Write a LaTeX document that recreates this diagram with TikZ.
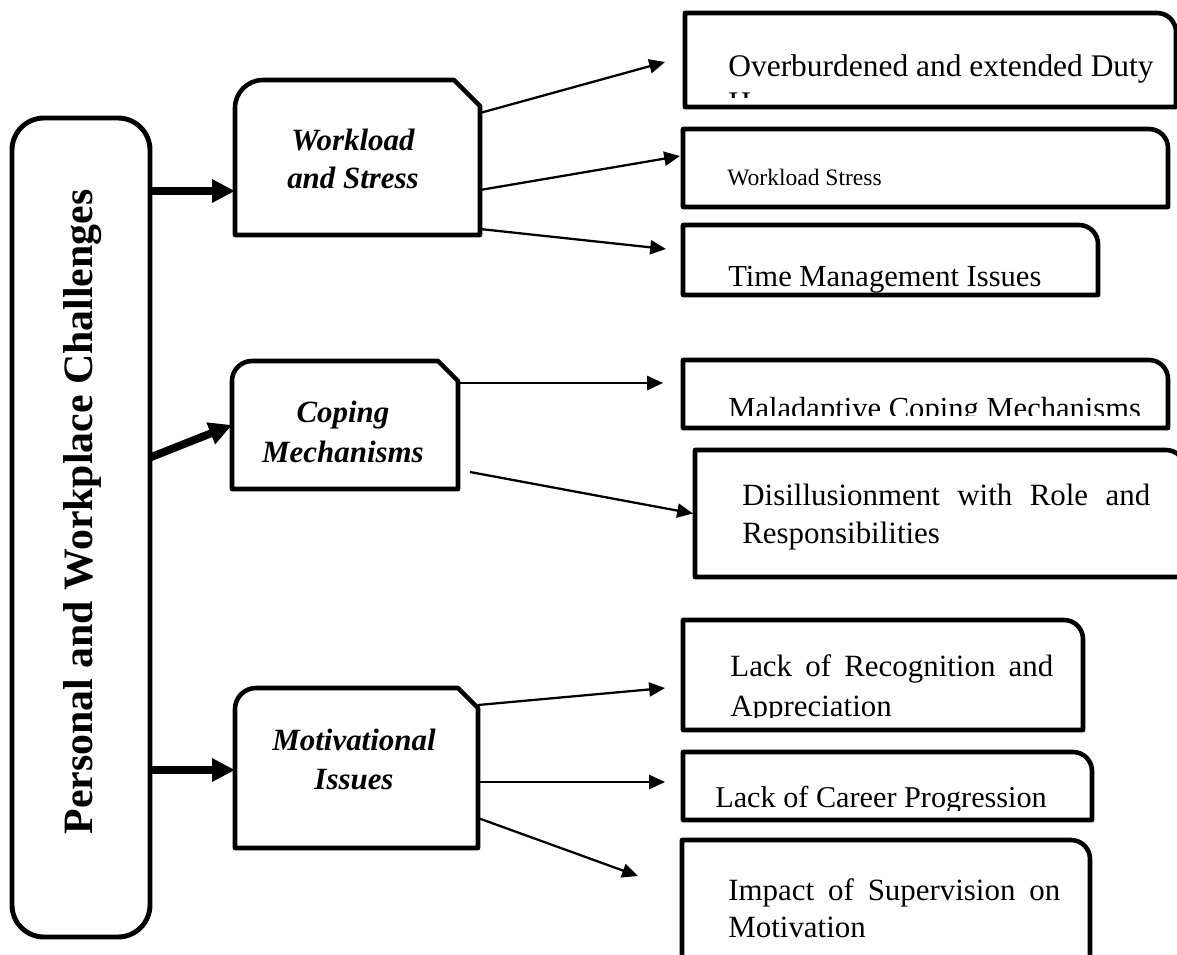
\documentclass[tikz,border=0pt]{standalone}
\usepackage{fontspec}
\setmainfont{Liberation Serif}
\usetikzlibrary{arrows.meta,calc}

% outline of a category box: rounded top-left corner, snipped top-right corner
\newcommand{\snipbox}[3]{%
  \draw[boxline] (#1.south west) [rounded corners=#2] -- (#1.north west)
    [sharp corners] -- ($(#1.north east)+(-#3,0)$) -- ($(#1.north east)+(0,#3)$)
    -- (#1.south east) -- cycle;}
% outline of an item box: only the top-right corner is rounded
\newcommand{\itembox}[1]{%
  \draw[boxline] (#1.south west) -- (#1.north west)
    [rounded corners=0.38cm] -- (#1.north east) [sharp corners]
    -- (#1.south east) -- cycle;}

\begin{document}
\begin{tikzpicture}[x=0.02cm,y=-0.02cm,
  area/.style args={#1x#2}{draw=none,inner sep=0,outer sep=0pt,
    minimum width=#1*0.02cm,minimum height=#2*0.02cm},
  boxline/.style={line width=2.6pt,line join=round},
  thin arrow/.style={line width=1.3pt,-{Triangle[length=9pt,width=8pt]}},
  thick arrow/.style={line width=4.5pt,-{Triangle[length=13pt,width=12.5pt]}},
  txt/.style={inner sep=0,anchor=base west,font=\fontsize{17.6pt}{21pt}\selectfont},
  cat/.style={inner sep=0,anchor=base,font=\fontsize{17.6pt}{21pt}\selectfont\bfseries\itshape}]

\fill[white] (0,0) rectangle (1177,954);
\useasboundingbox (0,0) rectangle (1177,954);

% main vertical box
\node[area=138x819,draw,line width=2.8pt,rounded corners=0.64cm] (M) at (81,527.5) {};
\node[rotate=90,anchor=base,inner sep=0,font=\fontsize{23.8pt}{28pt}\selectfont\bfseries]
  (title) at (92,512) {Personal and Workplace Challenges};

% category boxes
\node[area=245x155] (W) at (357.5,157.5) {};
\node[area=226x128] (C) at (345,425) {};
\node[area=243x160] (Mo) at (356.5,768) {};
\snipbox{W}{0.56cm}{26}
\snipbox{C}{0.4cm}{20}
\snipbox{Mo}{0.42cm}{20}
\node[cat] (Wt1) at (353,150) {Workload};
\node[cat] (Wt2) at (353,188) {and Stress};
\node[cat] (Ct1) at (343,422) {Coping};
\node[cat] (Ct2) at (343,462) {Mechanisms};
\node[cat] (Mt1) at (354,750) {Motivational};
\node[cat] (Mt2) at (354,789) {Issues};

% item boxes
\node[area=491x94]  (B1) at (930.5,60) {};
\node[area=485x78]  (B2) at (925.5,168) {};
\node[area=415x70]  (B3) at (890.5,260) {};
\node[area=485x68]  (B4) at (925.5,394) {};
\node[area=490x127] (B5) at (940,513.5) {};
\node[area=400x110] (B6) at (883,675) {};
\node[area=409x68]  (B7) at (887.5,786) {};
\node[area=408x120] (B8) at (886,900) {};
\foreach \b in {B1,B2,B3,B4,B5,B6,B7,B8} {\itembox{\b}}

% item texts (overflowing lines are cut at the inner margin)
\begin{scope}
  \clip (688,16) rectangle (1170,97);
  \node[txt,font=\fontsize{17.9pt}{21pt}\selectfont] (B1t1) at (728,76) {Overburdened and extended Duty};
  \node[txt,font=\fontsize{17.9pt}{21pt}\selectfont] (B1t2) at (728,113) {Hours};
\end{scope}
\node[txt,font=\fontsize{13.4pt}{16pt}\selectfont] (B2t) at (727,185) {Workload Stress};
\node[txt,font=\fontsize{17.4pt}{21pt}\selectfont] (B3t) at (728,286) {Time Management Issues};
\begin{scope}
  \clip (686,363) rectangle (1165,415);
  \node[txt,font=\fontsize{17.4pt}{21pt}\selectfont] (B4t) at (728,418) {Maladaptive Coping Mechanisms};
\end{scope}
\node[txt] (B5t1) at (742,505) {\makebox[8.16cm][s]{Disillusionment with Role and}};
\node[txt] (B5t2) at (742,543) {Responsibilities};
\begin{scope}
  \clip (686,623) rectangle (1080,717);
  \node[txt] (B6t1) at (730,676) {\makebox[6.46cm][s]{Lack of Recognition and}};
  \node[txt] (B6t2) at (730,716) {Appreciation};
\end{scope}
\begin{scope}
  \clip (686,755) rectangle (1089,810);
  \node[txt,font=\fontsize{17.2pt}{21pt}\selectfont] (B7t) at (715,807) {Lack of Career Progression};
\end{scope}
\node[txt] (B8t1) at (728,900) {\makebox[6.64cm][s]{Impact of Supervision on}};
\node[txt] (B8t2) at (728,937) {Motivation};

% thick connectors from the main box
\draw[thick arrow] ($(M.north east)+(0,73)$) -- ($(W.south west)+(0,-44)$);
\draw[thick arrow] ($(M.east)+(0,-70)$) -- (C.west);
\draw[thick arrow] ($(M.east)+(0,242.5)$) -- ($(Mo.west)+(0,2)$);

% connectors to the items
\draw[thin arrow] ($(W.north east)+(0,33)$) -- ($(B1.west)+(-20,2)$);
\draw[thin arrow] ($(W.north east)+(0,110)$) -- ($(B2.west)+(-3,-12)$);
\draw[thin arrow] ($(W.south east)+(0,-6)$) -- ($(B3.west)+(-17,-11)$);
\draw[thin arrow] ($(C.north east)+(0,22)$) -- ($(B4.west)+(-20,-11)$);
\draw[thin arrow] ($(C.south east)+(12,-17)$) -- ($(B5.west)+(-2,0)$);
\draw[thin arrow] ($(Mo.north east)+(0,17)$) -- ($(B6.west)+(-18,13)$);
\draw[thin arrow] ($(Mo.east)+(0,14)$) -- ($(B7.west)+(-18,-4)$);
\draw[thin arrow] ($(Mo.south east)+(0,-30)$) -- ($(B8.west)+(-44,-24)$);
\end{tikzpicture}
\end{document}
